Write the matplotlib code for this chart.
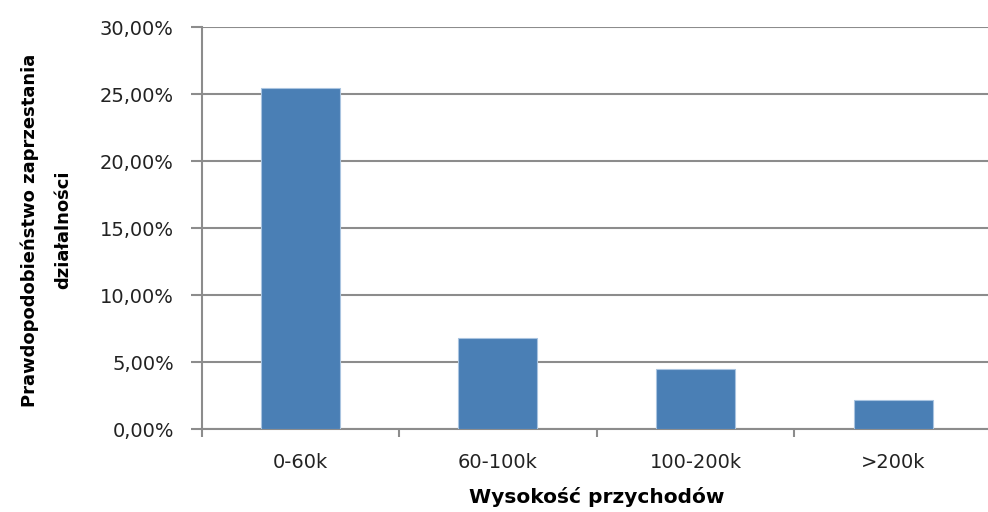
import numpy as np
import matplotlib.pyplot as plt
from matplotlib.ticker import FuncFormatter

plt.rcParams['font.family'] = ['DejaVu Sans']

categories = ["0-60k", "60-100k", "100-200k", ">200k"]
values = [25.46, 6.78, 4.49, 2.18]  # %

fig = plt.figure(figsize=(9.88, 5.12), dpi=100)
ax = fig.add_axes([0.204, 0.162, 0.800, 0.785])

x = np.arange(len(categories))
ax.bar(x, values, width=0.4, color="#4a7fb5", edgecolor="#a9c4e0", linewidth=0.8, zorder=3)

ax.set_xlim(-0.5, len(categories) - 0.5)
ax.set_ylim(0, 30)
ax.set_yticks(np.arange(0, 31, 5))
ax.yaxis.set_major_formatter(FuncFormatter(lambda v, p: f"{v:.2f}%".replace(".", ",")))
ax.grid(axis="y", color="#8c8c8c", linewidth=1.5, zorder=0)

ax.set_xticks(x)
ax.set_xticklabels(categories)
ax.set_xticks(np.arange(-0.5, len(categories), 1), minor=True)
ax.tick_params(axis="x", which="major", length=0, pad=17, labelsize=14, labelcolor="#222222")
ax.tick_params(axis="x", which="minor", length=6, width=1.5, color="#8c8c8c")
ax.tick_params(axis="y", length=8, width=1.5, color="#8c8c8c", labelsize=14, pad=12,
               labelcolor="#222222")

for s in ["top", "right"]:
    ax.spines[s].set_visible(False)
for s in ["left", "bottom"]:
    ax.spines[s].set_color("#8c8c8c")
    ax.spines[s].set_linewidth(1.5)

ax.set_xlabel("Wysokość przychodów", fontsize=14.5, fontweight="bold", labelpad=11)
ax.set_ylabel("Prawdopodobieństwo zaprzestania\ndziałalności", fontsize=13,
              fontweight="bold", linespacing=2.1)
ax.yaxis.set_label_coords(-0.163, 0.495)

fig.savefig("out.png", dpi=100)
